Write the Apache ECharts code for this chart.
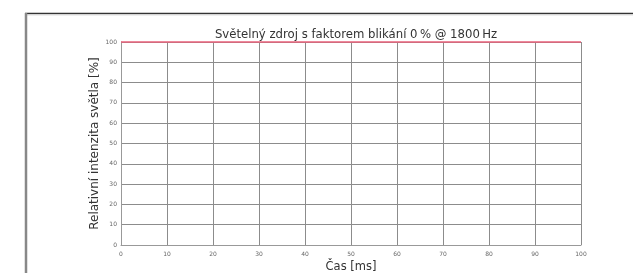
<!DOCTYPE html>
<html>
<head>
<meta charset="utf-8">
<script src="https://cdn.jsdelivr.net/npm/echarts@6/dist/echarts.min.js"></script>
<style>
  html, body { margin: 0; padding: 0; background: #fff; }
  #chart { width: 633px; height: 273px; }
</style>
</head>
<body>
<div id="chart"></div>
<script>
// data
var timeMs = [0, 100];
var intensity = [100, 100];
var xTicks = [0, 10, 20, 30, 40, 50, 60, 70, 80, 90, 100];
var yTicks = [0, 10, 20, 30, 40, 50, 60, 70, 80, 90, 100];

var points = timeMs.map(function (t, i) { return [t, intensity[i]]; });

var chart = echarts.init(document.getElementById('chart'), null, { renderer: 'canvas' });

var option = {
  animation: false,
  title: {
    text: 'Světelný zdroj s faktorem blikání 0\u2009% @ 1800\u2009Hz',
    left: 351,
    textAlign: 'center',
    top: 24,
    textStyle: {
      fontFamily: 'DejaVu Sans',
      fontSize: 11.7,
      fontWeight: 'normal',
      color: '#333'
    }
  },
  graphic: [
    { type: 'line', shape: { x1: 25, y1: 13.5, x2: 633, y2: 13.5 }, style: { stroke: '#333', lineWidth: 1.5 } },
    { type: 'line', shape: { x1: 25, y1: 15, x2: 633, y2: 15 }, style: { stroke: '#ddd', lineWidth: 1 } },
    { type: 'line', shape: { x1: 26, y1: 13, x2: 26, y2: 273 }, style: { stroke: '#888', lineWidth: 2.5 } }
  ],
  grid: { left: 121, right: 52, top: 42, bottom: 28, containLabel: false, outerBoundsMode: 'none' },
  xAxis: {
    type: 'value',
    min: xTicks[0],
    max: xTicks[xTicks.length - 1],
    interval: 10,
    name: 'Čas [ms]',
    nameLocation: 'middle',
    nameGap: 16,
    nameMoveOverlap: false,
    nameTextStyle: { fontFamily: 'DejaVu Sans', fontSize: 11.5, color: '#333' },
    axisLine: { show: true, lineStyle: { color: '#999', width: 1 } },
    axisTick: { show: false },
    axisLabel: { fontFamily: 'DejaVu Sans', fontSize: 6, color: '#666', margin: 6 },
    splitLine: { show: true, lineStyle: { color: '#8c8c8c', width: 1 } }
  },
  yAxis: {
    type: 'value',
    min: yTicks[0],
    max: yTicks[yTicks.length - 1],
    interval: 10,
    name: 'Relativní intenzita světla [%]',
    nameLocation: 'middle',
    nameGap: 20,
    nameMoveOverlap: false,
    nameTextStyle: { fontFamily: 'DejaVu Sans', fontSize: 12, color: '#333' },
    axisLine: { show: true, lineStyle: { color: '#999', width: 1 } },
    axisTick: { show: false },
    axisLabel: { fontFamily: 'DejaVu Sans', fontSize: 6, color: '#666', margin: 4 },
    splitLine: { show: true, lineStyle: { color: '#8c8c8c', width: 1 } }
  },
  series: [
    {
      type: 'line',
      data: points,
      symbol: 'none',
      clip: false,
      lineStyle: { color: '#e8607a', width: 1.5 }
    }
  ]
};

chart.setOption(option);
</script>
</body>
</html>
